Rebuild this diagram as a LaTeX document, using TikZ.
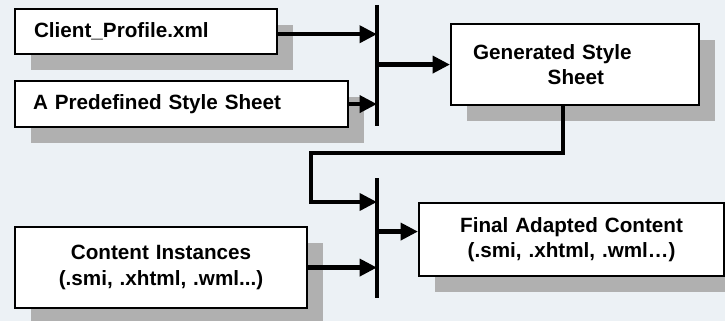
\documentclass[tikz,border=0pt]{standalone}
\usepackage{fontspec}
\setmainfont{Liberation Sans}
\usetikzlibrary{arrows.meta,shadows}
\definecolor{bgblue}{RGB}{236,241,245}
\definecolor{shadowgray}{RGB}{176,176,176}

\begin{document}
\begin{tikzpicture}[x=0.75pt, y=-0.75pt]
                \tikzstyle{block} = [rectangle, draw, line width=1.6pt, fill=white,
                anchor=north west, font=\fontsize{15.5}{19}\selectfont\bfseries,
                drop shadow={shadow xshift=12pt, shadow yshift=-12pt,
                fill=shadowgray, opacity=1}]
                \tikzstyle{arrow} = [line width=3.4pt, -{Triangle[length=13pt,width=12.5pt]}]
                \tikzstyle{bar} = [line width=3.6pt]

                \clip (0,0) rectangle (725,321);
                \fill[bgblue] (0,0) rectangle (725,321);

                \node [block, minimum height=33.75pt, text width=168pt, inner xsep=14.25pt,
                align=left] (profile) at (14,8) {Client\_Profile.xml};
                \node [block, minimum height=34.5pt, text width=222.75pt, inner xsep=13.5pt,
                align=left] (predef) at (14,80) {A Predefined Style Sheet};
                \node [block, minimum height=60.75pt, text width=153pt, inner xsep=16.5pt,
                align=left] (gen) at (450,23) {Generated Style\\\hspace*{56pt}Sheet};
                \node [block, minimum height=60.75pt, text width=207pt, inner xsep=6pt,
                align=center] (content) at (14,226) {Content Instances\\(.smi, .xhtml, .wml...)};
                \node [block, minimum height=54.75pt, text width=216.75pt, inner xsep=6pt,
                align=center] (final) at (418,202)
                {Final Adapted Content\\(.smi, .xhtml, .wml…)};

                % junction bars
                \coordinate (bartop1) at (377,5);
                \coordinate (barbot1) at (377,126);
                \coordinate (bartop2) at (377,178);
                \coordinate (barbot2) at (377,298);
                \coordinate (bend) at (311,153);
                \coordinate (bar2in) at (377,202);
                \draw [bar] (bartop1) -- (barbot1);
                \draw [bar] (bartop2) -- (barbot2);

                \draw [arrow] ([yshift=-2pt]profile.east) -- ([yshift=-2pt]profile.east -| bartop1);
                \draw [arrow] (predef.east) -- (predef.east -| bartop1);
                \draw [arrow] (gen.west -| bartop1) -- (gen.west);
                \draw [arrow] ([xshift=-9pt]gen.south) |- (bend) |- (bar2in);
                \draw [arrow] (content.east) -- (content.east -| bartop2);
                \draw [arrow] ([yshift=6pt]final.west -| bartop2) -- ([yshift=6pt]final.west);
            \end{tikzpicture}
\end{document}
